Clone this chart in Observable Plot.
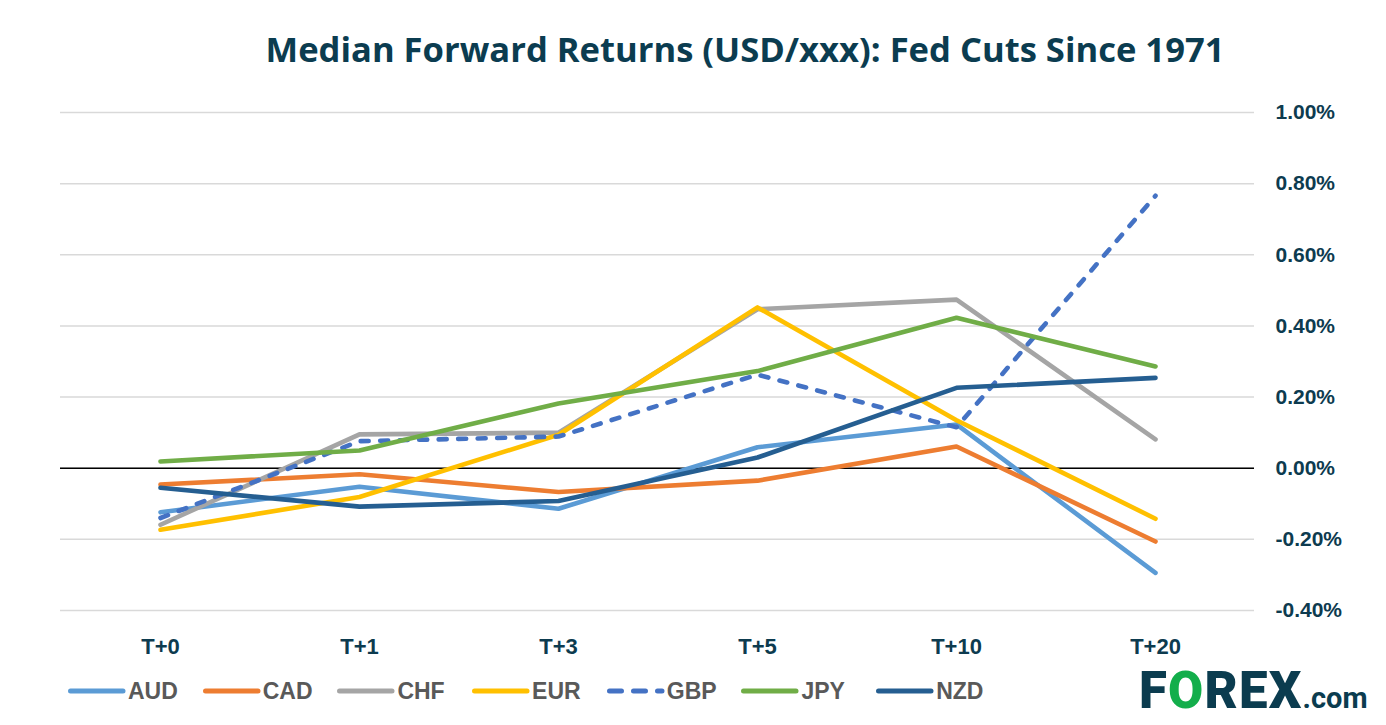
<!DOCTYPE html>
<html><head><meta charset="utf-8">
<script src="https://cdn.jsdelivr.net/npm/d3@7"></script>
<script src="https://cdn.jsdelivr.net/npm/@observablehq/plot@0.6"></script>
<style>
body{margin:0;background:#fff;width:1386px;height:725px;overflow:hidden;position:relative;font-family:"Liberation Sans",Arial,sans-serif;}
#title{position:absolute;left:0;top:32px;width:1490px;text-align:center;font-family:"Open Sans",sans-serif;font-weight:700;font-size:34.6px;line-height:34px;color:#0B3C50;white-space:nowrap;}
#chart{position:absolute;left:0;top:90px;}
#legend{position:absolute;left:66px;top:680px;display:flex;align-items:center;font-weight:700;font-size:23px;line-height:22px;color:#595959;}
.item{display:flex;align-items:center;width:134.7px;}
.item svg{margin-right:2px;}
#logo{position:absolute;left:1139px;top:671px;font-family:Roboto,"Liberation Sans",sans-serif;font-weight:900;font-size:51px;line-height:40px;color:#0B3C4F;white-space:nowrap;letter-spacing:1.2px;}
#logo .o{color:#13AE4B;}
#logo .com{font-size:29px;letter-spacing:0;font-weight:700;}
</style></head>
<body>
<div id="title">Median Forward Returns (USD/xxx): Fed Cuts Since 1971</div>
<div id="chart"></div>
<div id="legend"></div>
<div id="logo">F<span class="o">O</span>REX<span class="com">.com</span></div>
<script>
const periods = ["T+0","T+1","T+3","T+5","T+10","T+20"];
const seriesNames = ["AUD","CAD","CHF","EUR","GBP","JPY","NZD"];
const seriesColors = ["#5B9BD5","#ED7D31","#A5A5A5","#FFC000","#4472C4","#70AD47","#255E91"];
const AUD = [-0.124,-0.052,-0.114,0.059,0.123,-0.294];
const CAD = [-0.046,-0.017,-0.067,-0.035,0.061,-0.206];
const CHF = [-0.159,0.095,0.100,0.447,0.474,0.081];
const EUR = [-0.173,-0.081,0.094,0.452,0.135,-0.142];
const GBP = [-0.140,0.076,0.089,0.263,0.115,0.766];
const JPY = [0.019,0.050,0.182,0.273,0.423,0.286];
const NZD = [-0.055,-0.108,-0.092,0.030,0.226,0.254];
const yTicks = [-0.4,-0.2,0,0.2,0.4,0.6,0.8,1.0];

const values = {AUD, CAD, CHF, EUR, GBP, JPY, NZD};
const data = seriesNames.flatMap(s => periods.map((p, i) => ({series: s, period: p, value: values[s][i]})));

const lineMarks = seriesNames.map((s, k) => Plot.line(data.filter(d => d.series === s), {
  x: "period", y: "value",
  stroke: seriesColors[k], strokeWidth: 4.6,
  strokeLinecap: "round", strokeLinejoin: "round",
  strokeDasharray: s === "GBP" ? "8,11.5" : null
}));

const chart = Plot.plot({
  width: 1386, height: 575,
  marginLeft: 60, marginRight: 132, marginTop: 22, marginBottom: 55,
  style: {fontFamily: "'Liberation Sans', Arial, sans-serif", color: "#0D3B4F", background: "transparent"},
  x: {type: "point", domain: periods, padding: 0.5, label: null},
  y: {domain: [-0.4, 1.0], label: null},
  marks: [
    Plot.gridY(yTicks, {stroke: "#D9D9D9", strokeOpacity: 1, strokeWidth: 1.5}),
    Plot.ruleY([0], {stroke: "#000", strokeWidth: 1.6}),
    ...lineMarks,
    Plot.axisY(yTicks, {anchor: "right", tickSize: 0, tickPadding: 21, tickFormat: d => d.toFixed(2) + "%", fontSize: 21, fontWeight: "bold", label: null}),
    Plot.axisX({tickSize: 0, tickPadding: 28, fontSize: 22, fontWeight: "bold", label: null})
  ]
});
document.getElementById("chart").appendChild(chart);

const legend = document.getElementById("legend");
seriesNames.forEach((s, k) => {
  const item = document.createElement("div");
  item.className = "item";
  const dash = s === "GBP" ? ' stroke-dasharray="12,12"' : "";
  item.innerHTML = `<svg width="60" height="10"><line x1="4.5" y1="5" x2="57" y2="5" stroke="${seriesColors[k]}" stroke-width="5" stroke-linecap="round"${dash}/></svg><span>${s}</span>`;
  legend.appendChild(item);
});
</script>
</body></html>
